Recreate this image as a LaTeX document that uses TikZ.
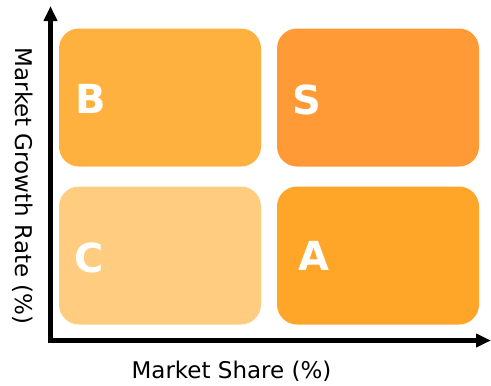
\documentclass[tikz,border=0pt]{standalone}
\usepackage{fontspec}
\setmainfont{DejaVu Sans}
\usetikzlibrary{arrows.meta}
\definecolor{colB}{RGB}{255,177,63}
\definecolor{colS}{RGB}{255,154,54}
\definecolor{colC}{RGB}{255,204,128}
\definecolor{colA}{RGB}{255,166,41}
\tikzset{
  quad/.style={draw=none, rounded corners=20pt, inner sep=0pt,
    minimum width=202pt, minimum height=138pt},
  letter/.style={text=white, inner sep=0pt, font=\bfseries\fontsize{40}{42}\selectfont},
  axislabel/.style={inner sep=0pt, font=\fontsize{23}{26}\selectfont},
  axis/.style={line width=4.5pt, -{Triangle[length=15pt,width=13pt]}}
}
\begin{document}
\begin{tikzpicture}[x=1pt,y=-1pt]
        \useasboundingbox (0,0) rectangle (491,386);
		% quadrants
		\node[quad, fill=colB] (boxB) at (160,97.5) {};
		\node[quad, fill=colS] (boxS) at (378,97.5) {};
		\node[quad, fill=colC] (boxC) at (160,255.5) {};
		\node[quad, fill=colA] (boxA) at (378,255.5) {};
		\node[letter] (labB) at (91,99) {B};
		\node[letter] (labS) at (307,100) {S};
		\node[letter] (labC) at (89.5,257.5) {C};
		\node[letter] (labA) at (314,255.5) {A};
		% axes
		\coordinate (O) at (50.5,340.5);
		\coordinate (Y) at (50.5,6);
		\coordinate (X) at (491,340.5);
		\draw[axis] ([yshift=-2.25pt]O) -- (Y);
		\draw[axis] ([xshift=-2.25pt]O) -- (X);
		\node[axislabel, anchor=base] (xlab) at (231.5,378) {Market Share (\%)};
		\node[axislabel, rotate=-90] (ylab) at (23,186) {Market Growth Rate (\%)};
\end{tikzpicture}
\end{document}
